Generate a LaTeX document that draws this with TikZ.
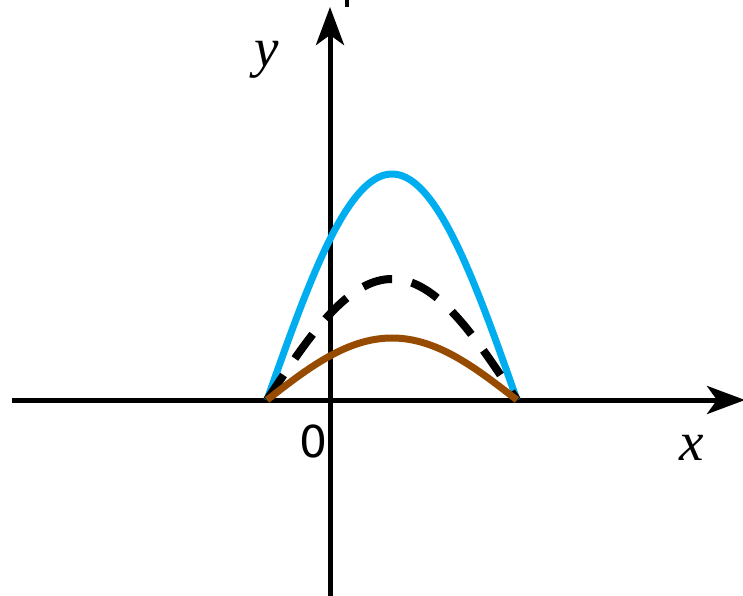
\documentclass[tikz,border=0pt]{standalone}
\usepackage{fontspec}
\setmainfont{Liberation Serif}
\newfontfamily\digitfont{DejaVu Sans}
\usetikzlibrary{arrows.meta}
\definecolor{curveblue}{RGB}{0,174,239}
\definecolor{curvebrown}{RGB}{150,75,0}
\tikzset{
  axisline/.style={line width=5pt,-{Stealth[length=38pt,width=28pt,inset=10pt]}},
  bluecurve/.style={line width=7pt,curveblue},
  browncurve/.style={line width=7pt,curvebrown},
  dashcurve/.style={line width=8pt,black,dash pattern=on 30pt off 20pt},
  axislabel/.style={font=\fontsize{55}{60}\selectfont\itshape,anchor=base,inner sep=0pt},
  zerolabel/.style={font=\fontsize{44}{50}\selectfont\digitfont,anchor=base,inner sep=0pt}
}
\begin{document}
\begin{tikzpicture}[x=1pt,y=-1pt]
\useasboundingbox (0,0) rectangle (743,596);
\coordinate (xs) at (12,400);
\coordinate (xe) at (745,400);
\coordinate (ys) at (330,596);
\coordinate (ye) at (330,7);
\draw[axisline] (xs) -- (xe);
\draw[axisline] (ys) -- (ye);
\fill (345,0) rectangle (349,7);
\draw[bluecurve] plot[domain=267:517,samples=80,smooth] (\x,{400-226*cos(deg(pi*(\x-392)/250))});
\draw[dashcurve] plot[domain=267:517,samples=80,smooth] (\x,{400-121*cos(deg(pi*(\x-392)/250))});
\draw[browncurve] plot[domain=267:517,samples=80,smooth] (\x,{400-62*cos(deg(pi*(\x-392)/250))});
\node[zerolabel] (zero) at (313,457) {0};
\node[axislabel] (xlab) at (692,460) {x};
\node[axislabel] (ylab) at (267,67) {y};
\end{tikzpicture}
\end{document}
